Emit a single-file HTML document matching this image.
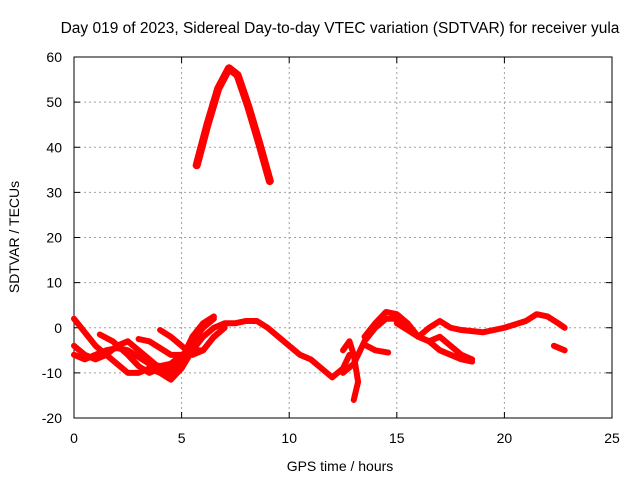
<!DOCTYPE html>
<html><head><meta charset="utf-8"><style>
body{margin:0;background:#fff}
svg{display:block;font-family:"Liberation Sans",sans-serif}
</style></head><body>
<svg id="c" width="640" height="480"></svg>
<script>
const xTicks=[0,5,10,15,20,25];
const yTicks=[-20,-10,0,10,20,30,40,50,60];
const s1=[[5.7,36],[6.2,45],[6.7,53],[7.2,57.5],[7.6,56],[8.1,49],[8.6,41],[9.1,32.5]];
const s2=[[0,2],[0.5,-1],[1,-4],[1.5,-6],[2,-8],[2.5,-10],[3,-10],[3.5,-9],[4,-10],[4.5,-11.5],[5,-9],[5.5,-5],[6,-2],[6.5,0],[7,1],[7.5,1],[8,1.5],[8.5,1.5],[9,0],[9.5,-2],[10,-4],[10.5,-6],[11,-7],[11.5,-9],[12,-11],[12.5,-9],[12.8,-6]];
const s3=[[0,-4],[0.5,-6],[1,-7],[1.5,-6],[2,-4],[2.5,-3],[3,-5],[3.5,-7],[4,-9],[4.5,-10],[5,-8],[5.5,-3],[6,0],[6.5,2]];
const s4=[[1.2,-1.5],[1.8,-3],[2.5,-6],[3,-8.5],[3.5,-10],[4,-9],[4.5,-9],[5,-7],[5.5,-2],[6,1],[6.5,2.5]];
const s5=[[0,-6],[0.5,-7],[1,-6],[1.5,-5],[2,-4.5],[2.5,-5],[3,-6.5],[3.5,-8],[4,-8.5],[4.5,-8],[5,-6],[5.5,-5],[6,-5],[6.5,-2],[7,0]];
const s6=[[4,-0.5],[4.5,-2],[5,-4],[5.5,-6],[6,-5],[6.5,-2],[7,0]];
const s7=[[3,-2.5],[3.5,-3],[4,-4.5],[4.5,-6],[5,-6]];
const s8=[[12.5,-5],[12.8,-3],[13,-6],[13.2,-12],[13,-16]];
const s9=[[12.5,-10],[13,-8],[13.5,-3],[14,0],[14.5,2],[15,2],[15.5,0],[16,-2],[16.5,-3],[17,-5],[17.5,-6],[18,-7],[18.5,-7.5]];
const s10=[[13.5,-2],[14,1],[14.5,3.5],[15,3],[15.5,1],[16,-2],[16.5,0],[17,1.5],[17.5,0],[18,-0.5],[19,-1],[20,0],[21,1.5],[21.5,3],[22,2.5],[22.5,1],[22.8,0]];
const s11=[[13.6,-4],[14,-5],[14.6,-5.5]];
const s12=[[22.3,-4],[22.8,-5]];
const s13=[[15,1],[15.5,-0.5],[16,-2],[16.5,-3],[17,-2],[17.5,-4],[18,-6],[18.5,-7]];
const series=[s1,s2,s3,s4,s5,s6,s7,s8,s9,s10,s11,s12,s13];
const X=h=>74+(h-0)*(538/25);
const Y=v=>57+(60-v)*(361/80);
const svg=document.getElementById('c');
const NS='http://www.w3.org/2000/svg';
function mk(t,a){const e=document.createElementNS(NS,t);for(const k in a)e.setAttribute(k,a[k]);svg.appendChild(e);return e;}
for(const t of xTicks){
 if(t>0&&t<25){const g=mk('line',{x1:X(t),x2:X(t),y1:57,y2:418,stroke:'#a0a0a0','stroke-dasharray':'2,3'});
 
 }
 const tk=mk('text',{x:X(t),y:443,'text-anchor':'middle','font-size':14,fill:'#000'});tk.textContent=t;
 
 
 mk('line',{x1:X(t),x2:X(t),y1:418,y2:412,stroke:'#000'});mk('line',{x1:X(t),x2:X(t),y1:57,y2:63,stroke:'#000'});
}
for(const t of yTicks){
 if(t>-20&&t<60){const g=mk('line',{x1:74,x2:612,y1:Y(t),y2:Y(t),stroke:'#a0a0a0','stroke-dasharray':'2,3'});
 
 }
 const tk=mk('text',{x:62,y:Y(t)+5,'text-anchor':'end','font-size':14,fill:'#000'});tk.textContent=t;
 
 
 mk('line',{x1:74,x2:80,y1:Y(t),y2:Y(t),stroke:'#000'});mk('line',{x1:612,x2:606,y1:Y(t),y2:Y(t),stroke:'#000'});
}
const fr=mk('rect',{x:74,y:57,width:538,height:361,fill:'none',stroke:'#000','stroke-width':1});


series.forEach((s,i)=>{
 const p=mk('polyline',{points:s.map(d=>X(d[0])+','+Y(d[1])).join(' '),fill:'none',stroke:'#ff0000','stroke-width':i==0?8:6,'stroke-linejoin':'round','stroke-linecap':'round'});
 
 
});
const t1=mk('text',{x:340,y:33,'text-anchor':'middle','font-size':15.5});t1.textContent='Day 019 of 2023, Sidereal Day-to-day VTEC variation (SDTVAR) for receiver yula';


const t2=mk('text',{x:340,y:471,'text-anchor':'middle','font-size':14});t2.textContent='GPS time / hours';


const t3=mk('text',{x:19,y:237,'text-anchor':'middle','font-size':14,transform:'rotate(-90 19 237)'});t3.textContent='SDTVAR / TECUs';


</script>
</body></html>
